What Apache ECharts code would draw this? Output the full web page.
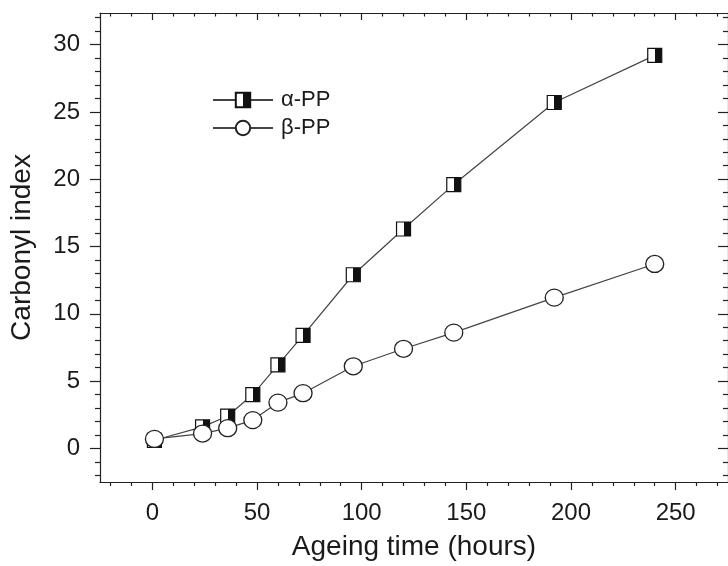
<!DOCTYPE html>
<html>
<head>
<meta charset="utf-8">
<script src="https://cdn.jsdelivr.net/npm/echarts@6/dist/echarts.min.js"></script>
<style>html,body{margin:0;padding:0;background:#fff}#c{width:728px;height:566px}</style>
</head>
<body>
<div id="c"></div>
<script>
// ---- data ----
var hours = [1, 24, 36, 48, 60, 72, 96, 120, 144, 192, 240];
var alphaPP = [0.6, 1.6, 2.4, 4.0, 6.2, 8.4, 12.9, 16.3, 19.6, 25.7, 29.2];
var betaPP = [0.7, 1.1, 1.5, 2.1, 3.4, 4.1, 6.1, 7.4, 8.6, 11.2, 13.7];
var xTickLabels = [0, 50, 100, 150, 200, 250];
var xMinorTicks = [-20, -10, 10, 20, 30, 40, 60, 70, 80, 90, 110, 120, 130, 140, 160, 170, 180, 190, 210, 220, 230, 240, 260, 270];
var yTickLabels = [0, 5, 10, 15, 20, 25, 30];
var yMinorTicks = [-2, -1, 1, 2, 3, 4, 6, 7, 8, 9, 11, 12, 13, 14, 16, 17, 18, 19, 21, 22, 23, 24, 26, 27, 28, 29, 31, 32];

var FONT = '"Liberation Sans", Arial, Helvetica, sans-serif';
var INK = '#1a1a1a';
var X_MIN = -25, X_MAX = 275, Y_MIN = -2.5, Y_MAX = 32.35;

function pairs(xs, ys) { return xs.map(function (x, i) { return [x, ys[i]]; }); }

function xAx(pos, ticks, len, inside, labels, line, extra) {
  var a = {
    type: 'value', min: X_MIN, max: X_MAX, position: pos,
    splitLine: { show: false },
    axisLine: { show: line, onZero: false, lineStyle: { color: '#222', width: 1.2 } },
    axisTick: { show: true, inside: inside, length: len, customValues: ticks, lineStyle: { color: '#222', width: 1.2 } },
    axisLabel: labels ? { show: true, customValues: labels, fontSize: 24, fontFamily: FONT, color: INK, margin: 19 } : { show: false }
  };
  if (extra) for (var k in extra) a[k] = extra[k];
  return a;
}
function yAx(pos, ticks, len, inside, labels, line, extra) {
  var a = {
    type: 'value', min: Y_MIN, max: Y_MAX, position: pos,
    splitLine: { show: false },
    axisLine: { show: line, onZero: false, lineStyle: { color: '#222', width: 1.2 } },
    axisTick: { show: true, inside: inside, length: len, customValues: ticks, lineStyle: { color: '#222', width: 1.2 } },
    axisLabel: labels ? { show: true, customValues: labels, fontSize: 24, fontFamily: FONT, color: INK, margin: 20 } : { show: false }
  };
  if (extra) for (var k in extra) a[k] = extra[k];
  return a;
}

var halfFill = new echarts.graphic.LinearGradient(0, 0, 1, 0, [
  { offset: 0, color: '#ffffff' }, { offset: 0.5, color: '#ffffff' },
  { offset: 0.5, color: '#111111' }, { offset: 1, color: '#111111' }
]);

var chart = echarts.init(document.getElementById('c'), null, { renderer: 'canvas' });
chart.setOption({
  animation: false,
  backgroundColor: '#ffffff',
  grid: { left: 99, right: -7, top: 13, bottom: 82, containLabel: false },
  legend: {
    orient: 'vertical', left: 212, top: 89, padding: 0, itemGap: 6,
    itemWidth: 60, itemHeight: 18,
    textStyle: { fontSize: 22, fontFamily: FONT, color: INK, padding: [0, 0, 0, 3] },
    data: ['α-PP', 'β-PP']
  },
  xAxis: [
    xAx('bottom', xTickLabels, 8, false, xTickLabels, true, {
      name: 'Ageing time (hours)', nameLocation: 'middle', nameGap: 51,
      nameTextStyle: { fontSize: 28, fontFamily: FONT, color: INK }
    }),
    xAx('bottom', xMinorTicks, 4, false, null, false),
    xAx('top', xTickLabels, 7, true, null, true),
    xAx('top', xMinorTicks, 3.5, true, null, false)
  ],
  yAxis: [
    yAx('left', yTickLabels, 10, false, yTickLabels, true, {
      name: 'Carbonyl index', nameLocation: 'middle', nameGap: 64, nameRotate: 90,
      nameTextStyle: { fontSize: 28, fontFamily: FONT, color: INK }
    }),
    yAx('left', yMinorTicks, 5, false, null, false),
    yAx('right', yTickLabels, 10, true, null, true),
    yAx('right', yMinorTicks, 5, true, null, false)
  ],
  series: [
    {
      name: 'α-PP', type: 'line', xAxisIndex: 0, yAxisIndex: 0,
      data: pairs(hours, alphaPP),
      symbol: 'rect', symbolSize: 14,
      lineStyle: { color: '#444', width: 1.2 },
      itemStyle: { color: halfFill, borderColor: '#111', borderWidth: 1.2 },
      emphasis: { disabled: true }
    },
    {
      name: 'β-PP', type: 'line', xAxisIndex: 0, yAxisIndex: 0,
      data: pairs(hours, betaPP),
      symbol: 'circle', symbolSize: [18, 17],
      lineStyle: { color: '#444', width: 1.2 },
      itemStyle: { color: '#ffffff', borderColor: '#222', borderWidth: 1.3 },
      emphasis: { disabled: true }
    }
  ]
});
</script>
</body>
</html>
